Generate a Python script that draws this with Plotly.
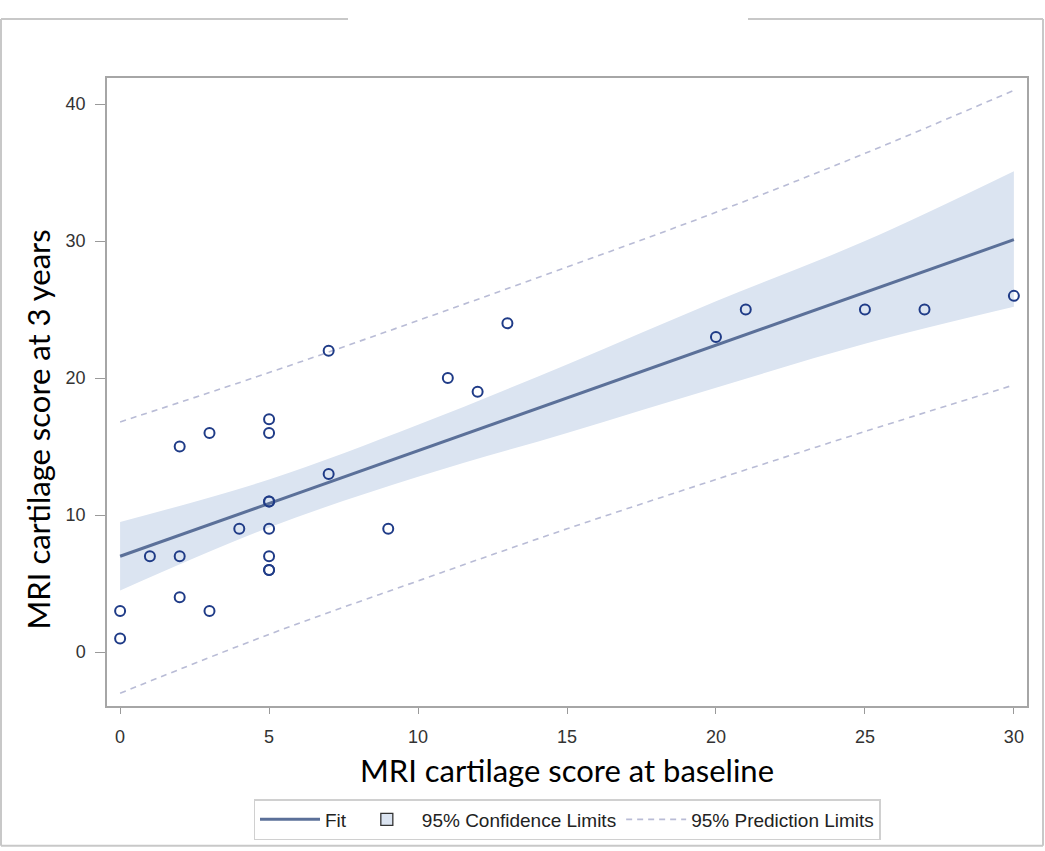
import plotly.graph_objects as go

# observed points
obs_x = [0, 0, 1, 2, 2, 2, 3, 3, 4, 5, 5, 5, 5, 5, 5, 5, 5, 7, 7, 9, 11, 12, 13, 20, 21, 25, 27, 30]
obs_y = [3, 1, 7, 15, 7, 4, 16, 3, 9, 17, 16, 11, 11, 9, 7, 6, 6, 22, 13, 9, 20, 19, 24, 23, 25, 25, 25, 26]

# fit and limits read at these x positions
grid_x = [0, 5, 10, 15, 20, 25, 30]
fit_y = [7.0, 10.85, 14.7, 18.55, 22.4, 26.25, 30.1]
cl_upper = [9.5, 12.6, 16.6, 21.0, 25.6, 30.0, 35.1]
cl_lower = [4.5, 9.1, 12.8, 16.0, 19.3, 22.5, 25.2]
pl_upper = [16.8, 20.4, 24.2, 28.1, 32.1, 36.4, 41.0]
pl_lower = [-3.0, 1.3, 5.2, 9.0, 12.6, 16.1, 19.5]

x_ticks = [0, 5, 10, 15, 20, 25, 30]
y_ticks = [0, 10, 20, 30, 40]

BAND = "#dbe4f1"
FIT = "#5b7099"
PRED = "#b9bcd6"
PT = "#1f3b87"

fig = go.Figure()

# confidence band
fig.add_trace(go.Scatter(x=grid_x, y=cl_upper, mode="lines", line=dict(width=0, shape="spline"),
                         showlegend=False, hoverinfo="skip"))
fig.add_trace(go.Scatter(x=grid_x, y=cl_lower, mode="lines", line=dict(width=0, shape="spline"),
                         fill="tonexty", fillcolor=BAND, showlegend=False, hoverinfo="skip"))

# prediction limits
fig.add_trace(go.Scatter(x=grid_x, y=pl_upper, mode="lines",
                         line=dict(color=PRED, width=1.6, dash="6px,5px", shape="spline"),
                         showlegend=False))
fig.add_trace(go.Scatter(x=grid_x, y=pl_lower, mode="lines",
                         line=dict(color=PRED, width=1.6, dash="6px,5px", shape="spline"),
                         showlegend=False))

# fit line
fig.add_trace(go.Scatter(x=grid_x, y=fit_y, mode="lines", name="Fit",
                         line=dict(color=FIT, width=3)))

# legend entries
fig.add_trace(go.Scatter(x=[None], y=[None], mode="markers", name="95% Confidence Limits",
                         marker=dict(symbol="square", size=12, color=BAND,
                                     line=dict(color="#333333", width=1.3))))
fig.add_trace(go.Scatter(x=[None], y=[None], mode="lines", name="95% Prediction Limits",
                         line=dict(color=PRED, width=1.6, dash="6px,5px")))

# observations
fig.add_trace(go.Scatter(x=obs_x, y=obs_y, mode="markers", showlegend=False,
                         marker=dict(symbol="circle-open", size=10, color=PT,
                                     line=dict(width=2, color=PT))))

tick_font = dict(family="Liberation Sans, Arial", size=18, color="#333333")
title_font = dict(family="Lato, Open Sans, sans-serif", size=31, color="#000000")

fig.update_xaxes(range=[-0.44, 30.44], tickvals=x_ticks, ticks="outside", ticklen=6,
                 tickcolor="#9a9a9a", showgrid=False, zeroline=False,
                 showline=True, linecolor="#a6a6a6", linewidth=1.5, mirror=True,
                 tickfont=tick_font, ticklabelstandoff=8,
                 title=dict(text="MRI cartilage score at baseline", font=title_font, standoff=14))
fig.update_yaxes(range=[-3.93, 41.9], tickvals=y_ticks, ticks="outside", ticklen=10,
                 tickcolor="#9a9a9a", showgrid=False, zeroline=False,
                 showline=True, linecolor="#a6a6a6", linewidth=1.5, mirror=True,
                 tickfont=tick_font, ticklabelstandoff=6)

# outer frame with gap at the top
W, H = 1045, 851
L, R, T, B = 107, 18, 78, 144
pw, ph = W - L - R, H - T - B
def px(xp):
    return (xp - L) / pw
def py(yp):
    return (H - B - yp) / ph
frame = dict(color="#c8c8c8", width=2)
shapes = [
    dict(type="line", xref="paper", yref="paper", x0=px(1), x1=px(348), y0=py(19), y1=py(19), line=frame),
    dict(type="line", xref="paper", yref="paper", x0=px(748), x1=px(1043), y0=py(19), y1=py(19), line=frame),
    dict(type="line", xref="paper", yref="paper", x0=px(1), x1=px(1), y0=py(19), y1=py(847), line=frame),
    dict(type="line", xref="paper", yref="paper", x0=px(1043), x1=px(1043), y0=py(19), y1=py(847), line=frame),
    dict(type="line", xref="paper", yref="paper", x0=px(1), x1=px(1043), y0=py(847), y1=py(847), line=frame),
]

# y axis title (placed off-centre as in the original)
annotations = [
    dict(text="MRI cartilage score at 3 years", xref="paper", yref="paper",
         x=px(38), y=py(430), xanchor="center", yanchor="middle",
         textangle=-90, showarrow=False, font=title_font),
]

fig.update_layout(
    width=W, height=H,
    margin=dict(l=L, r=R, t=T, b=B),
    paper_bgcolor="white", plot_bgcolor="white",
    shapes=shapes, annotations=annotations,
    legend=dict(orientation="h", x=0.5, xanchor="center", y=py(799), yanchor="top",
                traceorder="normal",
                bordercolor="#d0d0d0", borderwidth=1.5,
                font=dict(family="Liberation Sans, Arial", size=19, color="#222222"),
                itemwidth=60, tracegroupgap=0),
)

fig.write_html("out.html", config={"displayModeBar": False},
               post_script="document.body.style.margin='0';")
